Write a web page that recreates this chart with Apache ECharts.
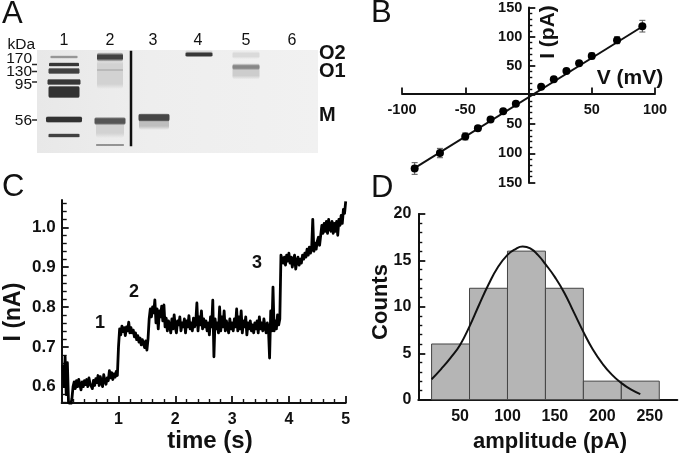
<!DOCTYPE html>
<html><head><meta charset="utf-8">
<style>html,body{margin:0;padding:0;background:#fff}#c{width:680px;height:455px}</style>
<script src="https://cdn.jsdelivr.net/npm/echarts@6/dist/echarts.min.js"></script>
</head><body><div id="c"></div>
<script>
// Panel A: gel, each band = [lane position, migration, width, thickness, grey level, softness]
var gelBands = [
 [27,7,27,1.5,150,1],[27,14.5,30,2.5,55,1],[27,21,31,4,65,1.5],[27,32,33,4,55,1.5],[27,42,31,10,50,1.5],[27,69.5,36,4,50,1.5],[27,85.5,31,2.5,65,1],
 [73,24,26,20,210,5],[73,7,26,3.5,65,3],[73,20,26,1,185,1],[73,78,28,10,210,5],[73,71,31,4.5,85,2],[73,95,28,.8,130,.6],
 [117,72,30,8,190,4],[117,67.5,31,5.5,70,1.5],
 [162,3,27,2,205,2],[162,4.5,27,3,55,1],
 [209,5,27,3,218,2.5],[209,21,27,9,205,4],[209,17,27,2.5,135,2],
 [94,48.5,2.5,95.5,15,0],
 [-2.5,14.5,5,1.5,40,0],[-2.5,21.5,5,1.5,40,0],[-2.5,32,5,1.5,40,0],[-2.5,70,5,1.5,40,0]
];
var laneLabels = ['1','2','3','4','5','6'];
var kdaLabels = ['kDa','170','130','95','56'];
var oligomerLabels = ['O2','O1','M'];
// Panel B: I-V
var ivVoltage = [-90,-70,-50,-40,-30,-20,-10,10,20,30,40,50,70,90];
var ivCurrent = [-126,-99.5,-71,-57,-42,-28,-15,14,27,41,54.5,67,94,118];
var ivError = [10,8,6,4,2,2,2,2,2,2,3,5,6,10];
var ivFitV = [-92,92];
var ivFitI = [-128,120];
// Panel C: current trace, one reading every 0.02 s from 0.02 s
var traceStep = 0.02;
var traceCurrent = [
 .655,.60,.675,.58,.66,.56,.555,.555,.57,.60,
 .612,.595,.615,.60,.618,.605,.592,.612,.60,.615,
 .605,.618,.60,.622,.607,.612,.595,.616,.603,.62,
 .61,.628,.603,.625,.612,.60,.63,.615,.606,.622,
 .615,.64,.622,.635,.618,.632,.624,.638,.628,.70,
 .745,.73,.752,.738,.748,.728,.75,.74,.762,.735,
 .748,.735,.742,.725,.735,.718,.728,.712,.722,.705,
 .718,.708,.698,.715,.692,.72,.77,.795,.775,.80,
 .785,.818,.76,.795,.745,.79,.775,.802,.765,.805,
 .75,.772,.74,.765,.755,.735,.77,.745,.78,.75,
 .735,.765,.755,.775,.74,.76,.75,.77,.735,.765,
 .75,.778,.745,.76,.74,.772,.75,.76,.81,.74,
 .775,.755,.79,.745,.77,.75,.765,.74,.76,.73,
 .775,.75,.817,.675,.77,.745,.76,.735,.80,.74,
 .775,.75,.79,.74,.765,.75,.735,.77,.745,.76,
 .74,.77,.75,.795,.74,.775,.745,.79,.735,.765,
 .75,.775,.73,.76,.745,.765,.74,.755,.735,.76,
 .745,.765,.735,.775,.745,.76,.74,.77,.75,.735,
 .76,.745,.672,.79,.74,.85,.74,.765,.745,.78,
 .755,.77,.93,.935,.91,.925,.905,.93,.915,.935,
 .91,.925,.90,.92,.93,.895,.915,.925,.905,.92,
 .91,.93,.92,.935,.925,.945,.93,.95,.935,.945,
 1.02,.94,.96,.945,.965,.975,.955,.98,1.005,.985,
 1.01,.99,1.015,.985,1.02,1.0,.99,1.015,.985,1.01,
 .99,1.015,.98,1.02,1.005,1.03,1.01,1.045,1.035,1.065
];
var traceMajorTicks = [.6,.7,.8,.9,1.0];
var traceMinorTicks = [.56,.58,.62,.64,.66,.68,.72,.74,.76,.78,.82,.84,.86,.88,.92,.94,.96,.98,1.02,1.04,1.06];
// Panel D: histogram
var binStart = [20,60,100,140,180,220];
var binEnd = [60,100,140,180,220,260];
var binCount = [6,12,16,12,2,2];
var fitAmp = [20,30,40,50,60,70,80,90,100,108,116,124,132,140,150,160,170,180,190,200,210,220,230,240];
var fitCnt = [2.2,3.3,4.5,5.9,7.9,10.2,12.4,14.3,15.6,16.2,16.5,16.3,15.6,14.6,13.2,11.5,9.4,7.3,5.4,3.9,2.7,1.8,1.1,0.6];
var ampLabels = [50,100,150,200,250];

var FF = '"Liberation Sans", Arial, sans-serif';
var INK = '#111';
function ln(w){return {show:true,lineStyle:{color:INK,width:w||2}};}
function txt(t,x,y,fs,bold,opt){
  opt = opt||{};
  return {type:'text',x:x,y:y,rotation:opt.rot||0,z:50,silent:true,
    style:{text:t,fill:'#111',font:(bold?'bold ':'')+fs+'px '+FF,textAlign:opt.align||'center',textVerticalAlign:'middle'}};
}
var laneX=[64,110,153,198,246,292], kdaY=[45,59,72,85,121], oliY=[53,71,115];
var graphics=[
  txt('A',2,14,31,false,{align:'left'}),txt('B',371,13,31,false,{align:'left'}),
  txt('C',2,187,31,false,{align:'left'}),txt('D',371,188,31,false,{align:'left'}),
  txt('I (pA)',548,32,21,true,{rot:Math.PI/2}),txt('V (mV)',630,78,21,true),
  txt('1',100,323,18,true),txt('2',134,292,18,true),txt('3',257,263,18,true),
  txt('I (nA)',14,312,23,true,{rot:Math.PI/2}),txt('time (s)',210,441,24,true),
  txt('Counts',381,302,22,true,{rot:Math.PI/2}),txt('amplitude (pA)',550,442,22,true)
];
laneLabels.forEach(function(t,i){graphics.push(txt(t,laneX[i],41,16,false));});
kdaLabels.forEach(function(t,i){graphics.push(txt(t,i==0?35:32,kdaY[i],15.5,false,{align:'right'}));});
oligomerLabels.forEach(function(t,i){graphics.push(txt(t,319,oliY[i],20,true,{align:'left'}));});

var tracePairs = traceCurrent.map(function(v,i){return [(i+1)*traceStep,v];});
var lab={fontFamily:FF,fontWeight:'bold',color:INK};
var major={color:INK,width:1.8}, minor={color:INK,width:1.4};

var option={
 animation:false,backgroundColor:'#fff',graphic:graphics,
 grid:[
  {left:37,top:50,width:281,height:103},
  {left:402,top:4.5,width:253,height:178},
  {left:61.7,top:200,width:284,height:203},
  {left:418.3,top:214,width:259,height:185.7}
 ],
 xAxis:[
  {gridIndex:0,type:'value',min:0,max:281,show:false},
  {gridIndex:1,type:'value',min:-100,max:100,interval:50,position:'bottom',offset:-89,splitLine:{show:false},
   axisLine:{show:true,onZero:false,lineStyle:{color:INK,width:2}},
   axisTick:{show:true,inside:true,length:6,lineStyle:major},
   axisLabel:Object.assign({fontSize:14.5,margin:9,showMinLabel:true,showMaxLabel:true,formatter:function(v){return v===0?'':v;}},lab)},
  {gridIndex:2,type:'value',min:0,max:5,interval:1,splitLine:{show:false},axisLine:ln(2),
   axisTick:{show:true,inside:true,length:7,lineStyle:major},
   minorTick:{show:true,splitNumber:5,length:4,lineStyle:minor},
   axisLabel:Object.assign({fontSize:16,margin:9,formatter:function(v){return v===0?'':v;}},lab)},
  {gridIndex:3,type:'value',min:6,max:279,splitLine:{show:false},axisLine:ln(2),axisTick:{show:false},
   axisLabel:Object.assign({fontSize:16,margin:9,customValues:ampLabels},lab)}
 ],
 yAxis:[
  {gridIndex:0,type:'value',min:0,max:103,inverse:true,show:false},
  {gridIndex:1,type:'value',min:-150,max:150,interval:50,position:'left',offset:-126.3,splitLine:{show:false},
   axisLine:{show:true,onZero:false,lineStyle:{color:INK,width:2}},
   axisTick:{show:true,inside:true,length:7,lineStyle:major},
   minorTick:{show:true,splitNumber:5,length:4,lineStyle:minor},
   axisLabel:Object.assign({fontSize:14.5,margin:6,showMinLabel:true,showMaxLabel:true,formatter:function(v){return v===0?'':Math.abs(v);}},lab)},
  {gridIndex:2,type:'value',min:.559,max:1.0685,splitLine:{show:false},axisLine:ln(2),
   axisTick:{show:true,inside:true,length:7,customValues:traceMajorTicks,lineStyle:major},
   axisLabel:Object.assign({fontSize:17,margin:6,customValues:traceMajorTicks,formatter:function(v){return v.toFixed(1);}},lab)},
  {gridIndex:2,type:'value',min:.559,max:1.0685,position:'left',splitLine:{show:false},axisLine:{show:false},
   axisTick:{show:true,inside:true,length:5,customValues:traceMinorTicks,lineStyle:minor},
   axisLabel:{show:false}},
  {gridIndex:3,type:'value',min:0,max:20,interval:5,splitLine:{show:false},axisLine:ln(2),
   axisTick:{show:true,inside:true,length:7,lineStyle:major},
   minorTick:{show:true,splitNumber:5,length:4,lineStyle:minor},
   axisLabel:Object.assign({fontSize:16,margin:7},lab)}
 ],
 series:[
  {type:'custom',xAxisIndex:0,yAxisIndex:0,silent:true,z:1,data:[[0,0,281,103]],
   renderItem:function(p,api){
     var a=api.coord([api.value(0),api.value(1)]),s=api.size([api.value(2),api.value(3)]);
     return {type:'rect',shape:{x:a[0],y:a[1],width:s[0],height:s[1]},
       style:{fill:new echarts.graphic.LinearGradient(0,0,1,0,[{offset:0,color:'#e8e8e8'},{offset:.4,color:'#eeeeee'},{offset:1,color:'#f1f1f1'}])}};
   }},
  {type:'custom',xAxisIndex:0,yAxisIndex:0,silent:true,z:2,data:gelBands,
   renderItem:function(p,api){
     var a=api.coord([api.value(0),api.value(1)]),s=api.size([api.value(2),api.value(3)]);
     var g=api.value(4),b=api.value(5),base='rgba('+g+','+g+','+g+',';
     var hh=s[1]+2*b,f=b/hh;
     var fill=b?new echarts.graphic.LinearGradient(0,0,0,1,[{offset:0,color:base+'0)'},{offset:f,color:base+'1)'},{offset:1-f,color:base+'1)'},{offset:1,color:base+'0)'}]):base+'1)';
     return {type:'rect',shape:{x:a[0]-s[0]/2,y:a[1]-hh/2,width:s[0],height:hh,r:b?Math.min(hh/3,3):0},style:{fill:fill}};
   }},
  {type:'custom',xAxisIndex:1,yAxisIndex:1,silent:true,z:3,
   data:ivVoltage.map(function(v,i){return [v,ivCurrent[i],ivError[i]];}),
   renderItem:function(p,api){
     var v=api.value(0),c=api.value(1),e=api.value(2);
     var a=api.coord([v,c+e]),b=api.coord([v,c-e]);
     var st={stroke:'#555',lineWidth:1,fill:null};
     return {type:'group',children:[
      {type:'line',shape:{x1:a[0],y1:a[1],x2:b[0],y2:b[1]},style:st},
      {type:'line',shape:{x1:a[0]-3,y1:a[1],x2:a[0]+3,y2:a[1]},style:st},
      {type:'line',shape:{x1:b[0]-3,y1:b[1],x2:b[0]+3,y2:b[1]},style:st}]};
   }},
  {type:'line',xAxisIndex:1,yAxisIndex:1,z:4,showSymbol:false,silent:true,
   data:ivFitV.map(function(v,i){return [v,ivFitI[i]];}),lineStyle:{color:INK,width:2}},
  {type:'scatter',xAxisIndex:1,yAxisIndex:1,z:5,symbolSize:8,silent:true,
   data:ivVoltage.map(function(v,i){return [v,ivCurrent[i]];}),itemStyle:{color:'#000',opacity:1}},
  {type:'line',xAxisIndex:2,yAxisIndex:2,z:4,showSymbol:false,silent:true,clip:true,
   data:tracePairs,lineStyle:{color:'#000',width:2.8,join:'round'}},
  {type:'custom',xAxisIndex:3,yAxisIndex:4,silent:true,z:3,
   data:binStart.map(function(s,i){return [s,binEnd[i],binCount[i]];}),
   renderItem:function(p,api){
     var a=api.coord([api.value(0),api.value(2)]),b=api.coord([api.value(1),0]);
     return {type:'rect',shape:{x:a[0],y:a[1],width:b[0]-a[0],height:b[1]-a[1]},
       style:{fill:'#b5b5b5',stroke:'#444',lineWidth:1}};
   }},
  {type:'line',xAxisIndex:3,yAxisIndex:4,z:4,smooth:true,showSymbol:false,silent:true,
   data:fitAmp.map(function(v,i){return [v,fitCnt[i]];}),lineStyle:{color:INK,width:2}}
 ]
};
echarts.init(document.getElementById('c'),null,{renderer:'canvas'}).setOption(option);
</script></body></html>
